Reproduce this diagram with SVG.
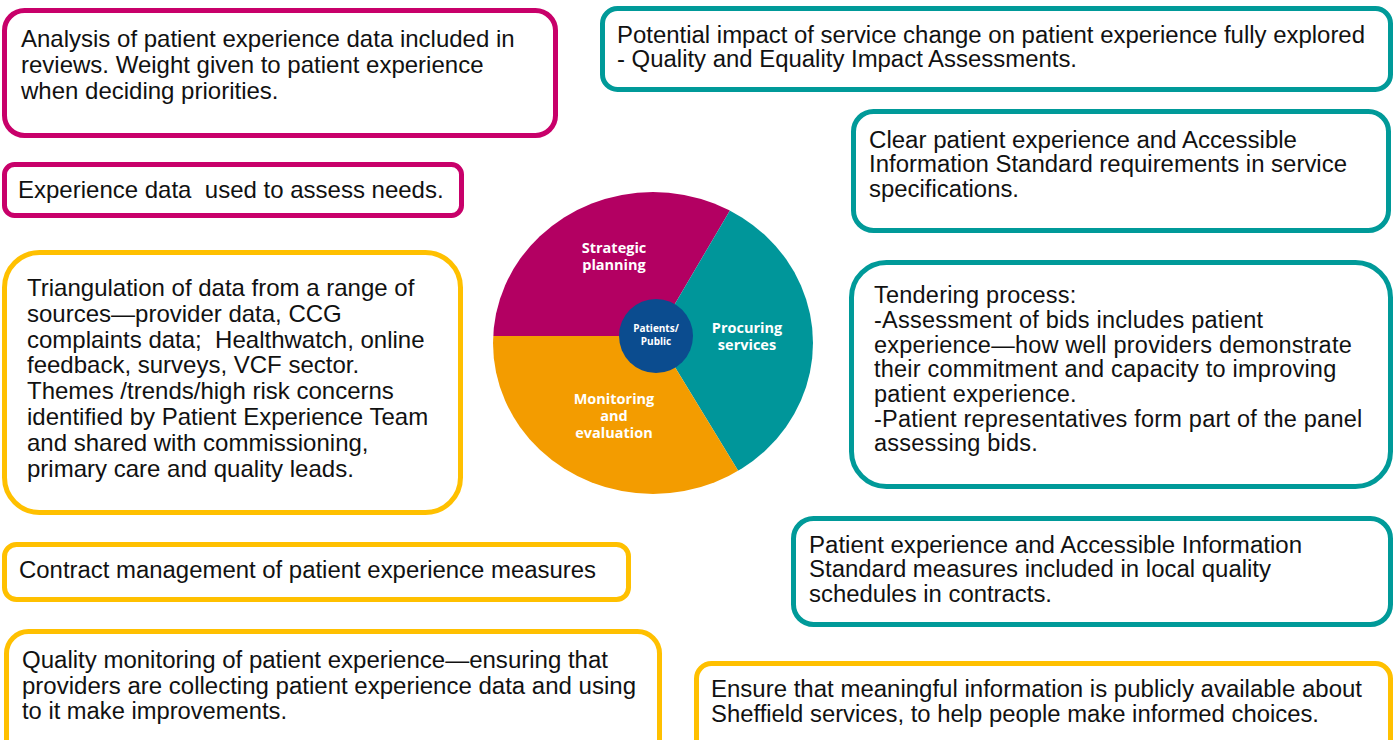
<svg xmlns="http://www.w3.org/2000/svg" width="1395" height="740" viewBox="0 0 1395 740">
  <defs>
    <style>
      .box{fill:#fff;stroke-width:5}
      .mag{stroke:#C8006A}
      .teal{stroke:#009A99}
      .yel{stroke:#FFC000}
      .t{font-family:"Liberation Sans",Arial,sans-serif;font-size:24px;fill:#111;white-space:pre}
      .t2{font-family:"Liberation Sans",Arial,sans-serif;font-size:23.5px;letter-spacing:0.22px;fill:#111}
      .n{font-family:"Liberation Sans",Arial,sans-serif;font-size:23px;fill:#111}
      .w{font-family:"Open Sans","Liberation Sans",sans-serif;font-weight:bold;fill:#fff;text-anchor:middle}
    </style>
    <clipPath id="disc">
      <ellipse cx="653" cy="343" rx="160" ry="151"/>
    </clipPath>
  </defs>
  <rect width="1395" height="740" fill="#fff"/>

  <!-- central cycle: three stages around the patients/public hub -->
  <g id="cycle">
    <g clip-path="url(#disc)">
      <polygon points="656,336 400,336 400,100 795,100" fill="#B30062"/>
      <polygon points="656,336 795,100 900,100 900,600 817,600" fill="#00969A"/>
      <polygon points="656,336 817,600 400,600 400,336" fill="#F39C00"/>
    </g>
    <circle cx="656" cy="336" r="37" fill="#0B4C8F"/>
    <text class="w" font-size="14.5"><tspan x="614" y="253">Strategic</tspan><tspan x="614" y="270">planning</tspan></text>
    <text class="w" font-size="14.5"><tspan x="747" y="333">Procuring</tspan><tspan x="747" y="350">services</tspan></text>
    <text class="w" font-size="14.5"><tspan x="614" y="404">Monitoring</tspan><tspan x="614" y="421">and</tspan><tspan x="614" y="438">evaluation</tspan></text>
    <text class="w" font-size="10"><tspan x="656" y="332">Patients/</tspan><tspan x="656" y="345">Public</tspan></text>
  </g>

  <g id="analysis">
    <rect class="box mag" x="4.5" y="10.5" width="551" height="125" rx="20"/>
    <text class="t"><tspan x="21" y="47">Analysis of patient experience data included in</tspan><tspan x="21" y="73">reviews. Weight given to patient experience</tspan><tspan x="21" y="99">when deciding priorities.</tspan></text>
  </g>

  <g id="needs">
    <rect class="box mag" x="4.5" y="164.5" width="457" height="51" rx="10"/>
    <text class="t" x="18" y="198">Experience data  used to assess needs.</text>
  </g>

  <g id="triangulation">
    <rect class="box yel" x="4.5" y="252.5" width="456" height="260" rx="35"/>
    <text class="t"><tspan x="27" y="296">Triangulation of data from a range of</tspan><tspan x="27" y="322">sources—provider data, CCG</tspan><tspan x="27" y="348">complaints data;  Healthwatch, online</tspan><tspan x="27" y="373">feedback, surveys, VCF sector.</tspan><tspan x="27" y="399">Themes /trends/high risk concerns</tspan><tspan x="27" y="425">identified by Patient Experience Team</tspan><tspan x="27" y="451">and shared with commissioning,</tspan><tspan x="27" y="477">primary care and quality leads.</tspan></text>
  </g>

  <g id="contract">
    <rect class="box yel" x="4.5" y="544.5" width="624" height="55" rx="12"/>
    <text class="n" x="19" y="578" textLength="577" lengthAdjust="spacingAndGlyphs">Contract management of patient experience measures</text>
  </g>

  <g id="monitoring">
    <rect class="box yel" x="6.5" y="631.5" width="653" height="130" rx="22"/>
    <text class="n" x="22" y="668" textLength="586" lengthAdjust="spacingAndGlyphs">Quality monitoring of patient experience—ensuring that</text>
    <text class="n" x="22" y="694" textLength="614" lengthAdjust="spacingAndGlyphs">providers are collecting patient experience data and using</text>
    <text class="n" x="22" y="719" textLength="265" lengthAdjust="spacingAndGlyphs">to it make improvements.</text>
  </g>

  <g id="impact">
    <rect class="box teal" x="602.5" y="8.5" width="788" height="81" rx="15"/>
    <text class="n" x="617" y="43" textLength="748" lengthAdjust="spacingAndGlyphs">Potential impact of service change on patient experience fully explored</text>
    <text class="n" x="617" y="67" textLength="460" lengthAdjust="spacingAndGlyphs">- Quality and Equality Impact Assessments.</text>
  </g>

  <g id="specifications">
    <rect class="box teal" x="853.5" y="111.5" width="535" height="119" rx="20"/>
    <text class="n" x="869" y="148" textLength="428" lengthAdjust="spacingAndGlyphs">Clear patient experience and Accessible</text>
    <text class="n" x="869" y="172" textLength="478" lengthAdjust="spacingAndGlyphs">Information Standard requirements in service</text>
    <text class="n" x="869" y="197" textLength="150" lengthAdjust="spacingAndGlyphs">specifications.</text>
  </g>

  <g id="tendering">
    <rect class="box teal" x="851.5" y="262.5" width="539" height="224" rx="35"/>
    <text class="t2"><tspan x="874" y="303">Tendering process:</tspan><tspan x="874" y="328">-Assessment of bids includes patient</tspan><tspan x="874" y="353">experience—how well providers demonstrate</tspan><tspan x="874" y="377">their commitment and capacity to improving</tspan><tspan x="874" y="402">patient experience.</tspan><tspan x="874" y="427">-Patient representatives form part of the panel</tspan><tspan x="874" y="451">assessing bids.</tspan></text>
  </g>

  <g id="schedules">
    <rect class="box teal" x="793.5" y="518.5" width="597" height="106" rx="20"/>
    <text class="n" x="809" y="553" textLength="493" lengthAdjust="spacingAndGlyphs">Patient experience and Accessible Information</text>
    <text class="n" x="809" y="577" textLength="462" lengthAdjust="spacingAndGlyphs">Standard measures included in local quality</text>
    <text class="n" x="809" y="602" textLength="243" lengthAdjust="spacingAndGlyphs">schedules in contracts.</text>
  </g>

  <g id="information">
    <rect class="box yel" x="696.5" y="663.5" width="694" height="100" rx="15"/>
    <text class="n" x="711" y="697" textLength="651" lengthAdjust="spacingAndGlyphs">Ensure that meaningful information is publicly available about</text>
    <text class="n" x="711" y="722" textLength="608" lengthAdjust="spacingAndGlyphs">Sheffield services, to help people make informed choices.</text>
  </g>
</svg>
